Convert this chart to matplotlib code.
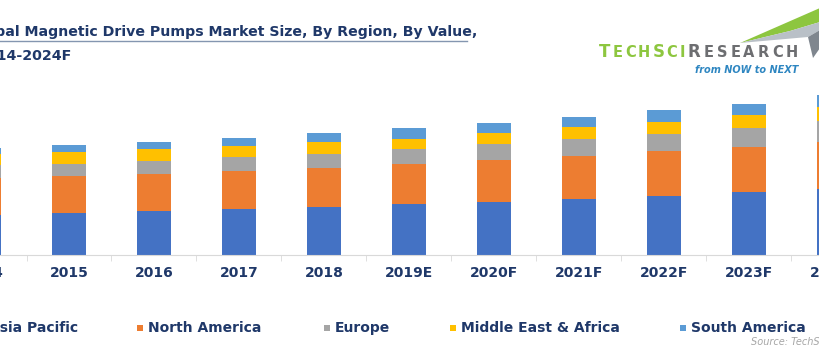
import matplotlib
matplotlib.use('Agg')
import matplotlib.pyplot as plt
from matplotlib.patches import Polygon, Rectangle
import numpy as np

# Data (arbitrary value units)
years = ['2014', '2015', '2016', '2017', '2018', '2019E',
         '2020F', '2021F', '2022F', '2023F', '2024F']
regions = ['Asia Pacific', 'North America', 'Europe', 'Middle East & Africa', 'South America']
asia_pacific = [40.0, 41.7, 44.0, 46.0, 48.3, 50.7, 53.3, 56.0, 59.3, 62.7, 66.0]
north_america = [36.7, 37.3, 37.0, 37.7, 38.4, 40.3, 41.4, 43.0, 44.4, 45.6, 46.6]
europe = [13.3, 12.3, 13.0, 14.0, 14.6, 15.0, 16.3, 16.7, 17.3, 18.7, 21.0]
mea = [11.0, 11.7, 11.7, 11.3, 11.7, 10.3, 11.3, 12.0, 12.3, 13.3, 14.0]
south_america = [5.7, 6.7, 7.3, 8.3, 8.7, 10.4, 9.4, 10.6, 11.4, 11.0, 12.7]
colors = ['#4472C4', '#ED7D31', '#A5A5A5', '#FFC000', '#5B9BD5']

navy = '#1F3869'
W, H = 820, 350

fig = plt.figure(figsize=(8.2, 3.5), dpi=100)
renderer = fig.canvas.get_renderer()

def fx(px):
    return px / W

def fy(py):
    return 1 - py / H

# plot area runs past both canvas edges, like the cropped original
ax = fig.add_axes([fx(-58.5), fy(255), fx(935), 170 / H])
x = np.arange(len(years))
bottom = np.zeros(len(years))
for vals, col in zip([asia_pacific, north_america, europe, mea, south_america], colors):
    ax.bar(x, vals, width=0.4, bottom=bottom, color=col, clip_on=False)
    bottom += np.array(vals)

ax.set_xlim(-0.5, len(years) - 0.5)
ax.set_ylim(0, 170)
for s in ['top', 'right', 'left']:
    ax.spines[s].set_visible(False)
ax.spines['bottom'].set_color('#D9D9D9')
ax.set_yticks([])
ax.set_xticks(x)
ax.set_xticklabels(years, fontsize=10, fontweight='bold', color=navy)
ax.tick_params(axis='x', which='major', length=0, pad=8)
ax.set_xticks(x[:-1] + 0.5, minor=True)
ax.tick_params(axis='x', which='minor', length=4, color='#D9D9D9')

# title (cut off at left edge as in the reference)
fig.text(fx(477), fy(36), 'Global Magnetic Drive Pumps Market Size, By Region, By Value,',
         ha='right', va='baseline', fontsize=10.15, fontweight='bold', color=navy)
fig.add_artist(plt.Line2D([0, fx(467)], [fy(41), fy(41)], color='#8496B0', lw=1))
fig.text(fx(72), fy(60), '2014-2024F', ha='right', va='baseline',
         fontsize=10.3, fontweight='bold', color=navy)

# logo, small caps spread over the logo width
def spaced(x0, x1, y, parts, color):
    items = []
    for s, size in parts:
        for ch in s:
            t = fig.text(0, fy(y), ch, fontsize=size, fontweight='bold', color=color,
                         va='baseline', ha='left')
            items.append((t, t.get_window_extent(renderer).width))
    total = sum(w for _, w in items)
    gap = (x1 - x0 - total) / (len(items) - 1)
    cur = x0
    for t, w in items:
        t.set_x(fx(cur))
        cur += w + gap

spaced(599, 685, 57, [('T', 12), ('ECH', 10.5), ('S', 12), ('CI', 10.5)], '#8DC63F')
spaced(688, 798, 57, [('R', 12), ('ESEARCH', 10.5)], '#6D6E71')
fig.text(fx(798), fy(70), 'from NOW to NEXT', ha='right', va='center', fontsize=7,
         style='italic', fontweight='bold', color='#2E86C1')

def poly(pts, col):
    fig.add_artist(Polygon([(fx(a), fy(b)) for a, b in pts], closed=True,
                           transform=fig.transFigure, color=col, lw=0))

poly([(740, 43), (820, 8), (820, 22), (790, 31)], '#8DC63F')
poly([(740, 43), (790, 31), (820, 22), (820, 30), (808, 37)], '#B9C0C7')
poly([(808, 37), (820, 30), (820, 48), (813, 58)], '#7F868E')

# legend
leg_x = [-19, 140, 327, 453, 683]
leg_y = 328
for lx, name, col in zip(leg_x, regions, colors):
    fig.add_artist(Rectangle((fx(lx - 3), fy(leg_y + 3)), fx(6), 6 / H,
                             transform=fig.transFigure, color=col, lw=0))
    fig.text(fx(lx + 8), fy(leg_y), name, ha='left', va='center', fontsize=10,
             fontweight='bold', color=navy)

fig.text(fx(751), fy(342), 'Source: TechSci Research', ha='left', va='center',
         fontsize=7, style='italic', color='#A6A6A6')

fig.savefig('out.png', dpi=100)
